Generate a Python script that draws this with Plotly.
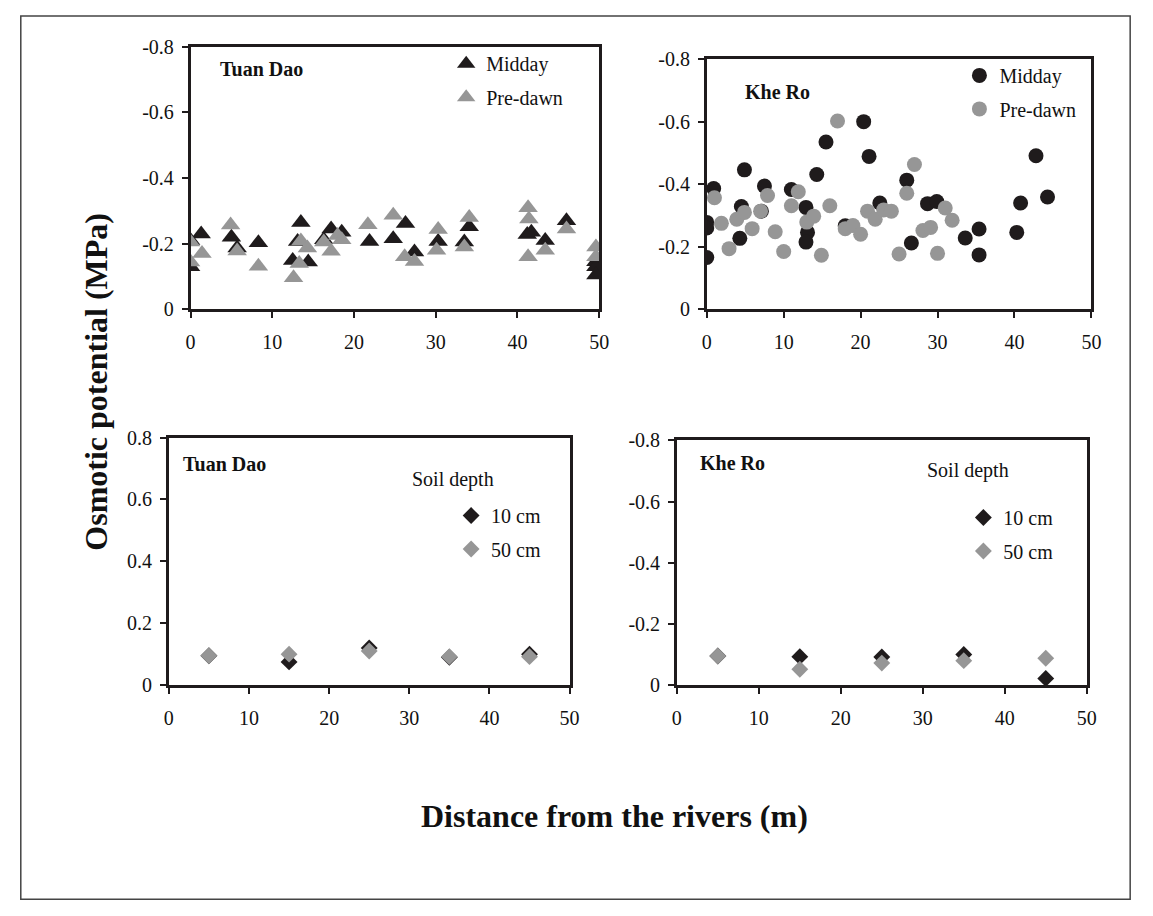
import plotly.graph_objects as go

# ---- Tuan Dao, leaf osmotic potential (MPa) vs distance from river (m)
td_midday_x = [0.0, 0.0, 1.3, 5.0, 5.7, 8.3, 12.5, 13.1, 13.5, 14.4, 16.3, 17.2, 18.5,
               21.9, 24.8, 26.3, 27.4, 30.3, 33.5, 34.1, 41.2, 41.7, 43.4, 46.0,
               49.6, 49.6, 49.6]
td_midday_y = [-0.21, -0.13, -0.23, -0.22, -0.187, -0.203, -0.149, -0.207, -0.265, -0.144,
               -0.212, -0.245, -0.235, -0.207, -0.215, -0.262, -0.175, -0.207, -0.205,
               -0.252, -0.228, -0.235, -0.21, -0.27, -0.145, -0.13, -0.105]
td_predawn_x = [0.0, 0.0, 1.4, 4.9, 5.7, 8.3, 12.6, 13.3, 13.5, 14.3, 16.3, 17.2, 18.0,
                18.5, 21.7, 24.8, 26.2, 27.4, 30.1, 30.3, 33.5, 34.1, 41.3, 41.4, 41.3,
                43.4, 46.0, 49.6, 49.6]
td_predawn_y = [-0.205, -0.144, -0.17, -0.257, -0.178, -0.131, -0.096, -0.14, -0.208,
                -0.187, -0.205, -0.177, -0.225, -0.212, -0.258, -0.287, -0.16, -0.146,
                -0.18, -0.243, -0.19, -0.28, -0.31, -0.275, -0.16, -0.18, -0.245,
                -0.19, -0.16]

# ---- Khe Ro, leaf osmotic potential (MPa)
kr_midday_x = [0.0, 0.0, 0.0, 0.9, 4.3, 4.5, 4.9, 7.1, 7.5, 11.0, 12.9, 13.1, 12.9, 14.3,
               15.5, 18.0, 20.4, 21.1, 22.5, 26.0, 26.6, 28.7, 29.9, 33.6, 35.4, 35.4,
               40.3, 40.8, 42.8, 44.3]
kr_midday_y = [-0.278, -0.26, -0.166, -0.386, -0.227, -0.329, -0.446, -0.314, -0.394,
               -0.383, -0.326, -0.246, -0.215, -0.431, -0.535, -0.267, -0.6, -0.489,
               -0.34, -0.413, -0.212, -0.338, -0.345, -0.228, -0.257, -0.174, -0.246,
               -0.34, -0.491, -0.359]
kr_predawn_x = [1.0, 1.9, 2.9, 3.9, 4.9, 5.9, 7.0, 7.9, 8.9, 10.0, 11.0, 11.9, 13.0, 13.9,
                14.9, 16.0, 17.0, 18.0, 19.0, 20.0, 20.9, 21.9, 23.0, 24.0, 25.0, 26.0,
                27.0, 28.1, 29.1, 30.0, 31.0, 31.9]
kr_predawn_y = [-0.357, -0.275, -0.194, -0.288, -0.31, -0.258, -0.314, -0.364, -0.248,
                -0.185, -0.331, -0.376, -0.279, -0.298, -0.173, -0.331, -0.602, -0.258,
                -0.268, -0.24, -0.314, -0.288, -0.318, -0.314, -0.177, -0.371, -0.463,
                -0.252, -0.262, -0.179, -0.324, -0.285]

# ---- Soil osmotic potential at two depths
soil_x = [5, 15, 25, 35, 45]
td_soil_10 = [0.095, 0.075, 0.12, 0.09, 0.10]
td_soil_50 = [0.095, 0.10, 0.11, 0.092, 0.092]
kr_soil_10 = [-0.095, -0.093, -0.092, -0.10, -0.022]
kr_soil_50 = [-0.095, -0.052, -0.072, -0.08, -0.088]

x_ticks = [0, 10, 20, 30, 40, 50]
neg_ticks = [0, -0.2, -0.4, -0.6, -0.8]
neg_ticktext = ["0", "-0.2", "-0.4", "-0.6", "-0.8"]
pos_ticks = [0, 0.2, 0.4, 0.6, 0.8]
pos_ticktext = ["0", "0.2", "0.4", "0.6", "0.8"]

DARK = "#1f1b1c"
GREY = "#969696"
FONT = "Liberation Serif"
W, H = 1153, 916


def px_x(p):
    return p / W


def px_y(p):
    return 1 - p / H


fig = go.Figure()


def add(x, y, name, color, symbol, size, xa, ya, legend):
    fig.add_trace(go.Scatter(
        x=x, y=y, mode="markers", name=name,
        marker=dict(color=color, symbol=symbol, size=size, line=dict(width=0)),
        xaxis=xa, yaxis=ya, legend=legend, legendgroup=legend + name,
    ))


add(td_midday_x, td_midday_y, "Midday", DARK, "triangle-up", 17, "x", "y", "legend")
add(td_predawn_x, td_predawn_y, "Pre-dawn", GREY, "triangle-up", 17, "x", "y", "legend")
add(kr_midday_x, kr_midday_y, "Midday", DARK, "circle", 15, "x2", "y2", "legend2")
add(kr_predawn_x, kr_predawn_y, "Pre-dawn", GREY, "circle", 15, "x2", "y2", "legend2")
add(soil_x, td_soil_10, "10 cm", DARK, "diamond", 13, "x3", "y3", "legend3")
add(soil_x, td_soil_50, "50 cm", GREY, "diamond", 13, "x3", "y3", "legend3")
add(soil_x, kr_soil_10, "10 cm", DARK, "diamond", 13, "x4", "y4", "legend4")
add(soil_x, kr_soil_50, "50 cm", GREY, "diamond", 13, "x4", "y4", "legend4")

tick_font = dict(family=FONT, size=20, color="#111")


def xaxis(domain, anchor):
    return dict(domain=domain, anchor=anchor, range=[0, 50], tickvals=x_ticks,
                ticks="outside", ticklen=6, tickwidth=1.5, tickcolor=DARK,
                showline=True, linewidth=2.5, linecolor=DARK, mirror=True,
                showgrid=False, zeroline=False, tickfont=tick_font,
                ticklabelstandoff=7)


def yaxis(domain, anchor, negative):
    return dict(domain=domain, anchor=anchor,
                range=[0, -0.8] if negative else [0, 0.8],
                tickvals=neg_ticks if negative else pos_ticks,
                ticktext=neg_ticktext if negative else pos_ticktext,
                ticks="outside", ticklen=6, tickwidth=1.5, tickcolor=DARK,
                showline=True, linewidth=2.5, linecolor=DARK, mirror=True,
                showgrid=False, zeroline=False, tickfont=tick_font,
                ticklabelstandoff=4)


def legend(x_px, y_px):
    return dict(x=px_x(x_px), y=px_y(y_px), xanchor="left", yanchor="top",
                bgcolor="rgba(0,0,0,0)", borderwidth=0, traceorder="grouped",
                tracegroupgap=4.5, font=dict(family=FONT, size=20, color="#111"),
                itemclick=False, itemdoubleclick=False)


layout = dict(
    width=W, height=H, margin=dict(l=0, r=0, t=0, b=0),
    paper_bgcolor="white", plot_bgcolor="white",
    font=dict(family=FONT, color="#111"),
    xaxis=xaxis([px_x(188), px_x(602)], "y"),
    yaxis=yaxis([px_y(305.7), px_y(36.7)], "x", True),
    xaxis2=xaxis([px_x(711), px_x(1100.7)], "y2"),
    yaxis2=yaxis([px_y(305.7), px_y(49.3)], "x2", True),
    xaxis3=xaxis([px_x(166), px_x(572)], "y3"),
    yaxis3=yaxis([px_y(690.7), px_y(437)], "x3", False),
    xaxis4=xaxis([px_x(680.7), px_x(1096)], "y4"),
    yaxis4=yaxis([px_y(690.7), px_y(440)], "x4", True),
    legend=legend(447, 34),
    legend2=legend(967, 46),
    legend3=legend(452, 497),
    legend4=legend(971, 499),
    showlegend=True,
)
fig.update_layout(**layout)


def label(text, x, y, size=20, bold=True, angle=0, xanchor="left"):
    fig.add_annotation(
        text=f"<b>{text}</b>" if bold else text, x=px_x(x), y=px_y(y),
        xref="paper", yref="paper", xanchor=xanchor, yanchor="middle",
        showarrow=False, textangle=angle,
        font=dict(family=FONT, size=size, color="#111"),
    )


label("Tuan Dao", 216, 59)
label("Khe Ro", 748, 83)
label("Tuan Dao", 178, 464)
label("Soil depth", 410, 480, bold=False)
label("Khe Ro", 702, 463)
label("Soil depth", 932, 471, bold=False)
label("Osmotic potential (MPa)", 92, 380, size=32, angle=-90, xanchor="center")
label("Distance from the rivers (m)", 618, 825, size=32, xanchor="center")

# outer frame around the whole figure
fig.add_shape(type="rect", xref="paper", yref="paper",
              x0=px_x(16), y0=px_y(910), x1=px_x(1140), y1=px_y(5),
              line=dict(color="#444", width=1.5), fillcolor="rgba(0,0,0,0)")

# the page holds only the figure, flush with the window edges
fig.write_html("out.html", post_script="document.body.style.margin = '0';")
